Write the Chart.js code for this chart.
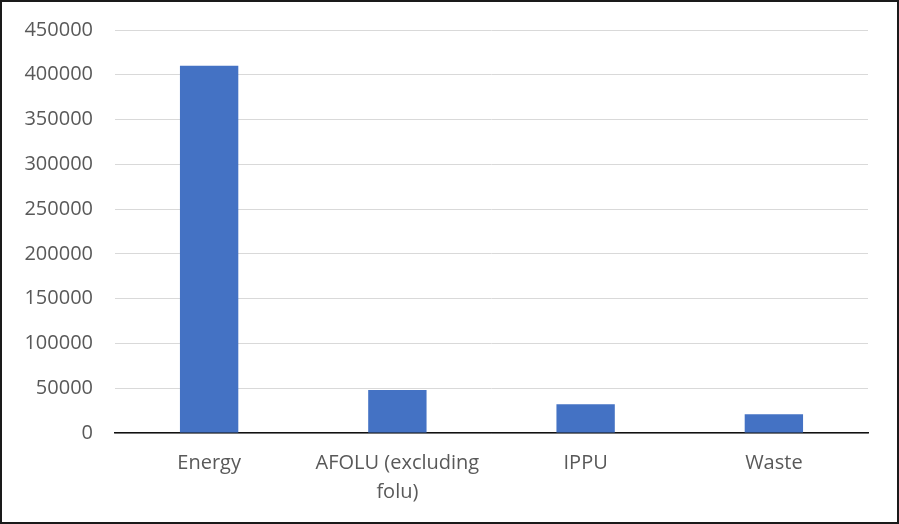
<!DOCTYPE html>
<html>
<head>
    <title>Emissions by sector</title>
    <style>
        body { margin: 0; background: #ffffff; }
        .frame {
            position: absolute; left: 0; top: 0;
            width: 899px; height: 524px;
            box-sizing: border-box;
            border: 2px solid #1a1a1a;
        }
        canvas { display: block; }
    </style>
    <script src="https://cdn.jsdelivr.net/npm/chart.js"></script>
</head>
<body>
    <div class="frame">
        <canvas id="sector-chart" width="895" height="520"></canvas>
    </div>
<script>
    var sectors = [['Energy'], ['AFOLU (excluding', 'folu)'], ['IPPU'], ['Waste']];
    var emissions = [410000, 48000, 32000, 21000];
    var yMax = 450000;
    var yStep = 50000;

    var ctx = document.getElementById('sector-chart').getContext('2d');
    var sectorChart = new Chart(ctx, {
        type: 'bar',
        data: {
            labels: sectors,
            datasets: [{
                data: emissions,
                backgroundColor: '#4472C4',
                borderWidth: 0,
                categoryPercentage: 1,
                barPercentage: 0.31
            }]
        },
        options: {
            responsive: false,
            animation: false,
            layout: { padding: { top: 28, right: 29, left: 0, bottom: 0 } },
            plugins: { legend: { display: false }, tooltip: { enabled: false } },
            scales: {
                x: {
                    grid: { display: false, drawTicks: false },
                    border: { color: '#111111', width: 1.5 },
                    ticks: {
                        color: '#595959',
                        padding: 16,
                        maxRotation: 0,
                        autoSkip: false,
                        font: { family: 'Open Sans', size: 20, lineHeight: 1.45 }
                    },
                    afterFit: function (scale) {
                        scale.height = 89;
                        scale.paddingLeft = 0;
                        scale.paddingRight = 0;
                    }
                },
                y: {
                    min: 0,
                    max: yMax,
                    grid: { color: '#d9d9d9', lineWidth: 1, drawTicks: false },
                    border: { display: false },
                    ticks: {
                        stepSize: yStep,
                        color: '#595959',
                        padding: 22,
                        font: { family: 'Open Sans', size: 20 },
                        callback: function (value) { return String(value); }
                    },
                    afterFit: function (scale) {
                        scale.width = 113;
                        scale.paddingTop = 0;
                        scale.paddingBottom = 0;
                    }
                }
            }
        }
    });
</script>
</body>
</html>
